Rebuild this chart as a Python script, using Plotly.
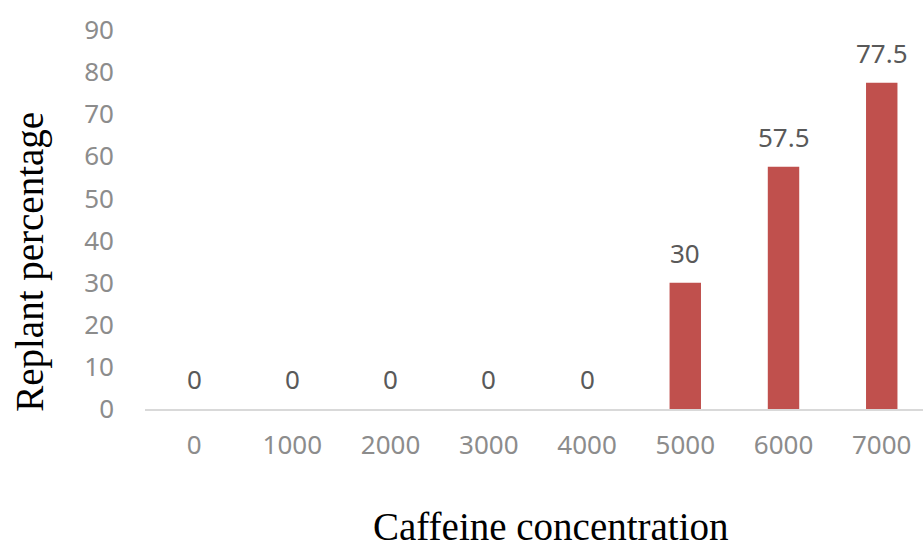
import plotly.graph_objects as go

# Caffeine concentration categories and replant percentage per category
concentrations = ["0", "1000", "2000", "3000", "4000", "5000", "6000", "7000"]
replant_pct = [0, 0, 0, 0, 0, 30, 57.5, 77.5]
y_ticks = [0, 10, 20, 30, 40, 50, 60, 70, 80, 90]

BAR_COLOR = "#C0504D"
TICK_COLOR = "#8C8C8C"
LABEL_COLOR = "#595959"
NUM_FONT = "Noto Sans"
TITLE_FONT = "Liberation Serif"

fig = go.Figure()
fig.add_trace(go.Bar(
    x=list(range(len(concentrations))),
    y=replant_pct,
    marker=dict(color=BAR_COLOR, line=dict(width=0)),
    width=0.32,
    hovertext=concentrations,
    hoverinfo="text+y",
))

# Value labels above each bar
for i, v in enumerate(replant_pct):
    fig.add_annotation(
        x=i, y=v, xref="x", yref="y", text=f"{v:g}", showarrow=False,
        yanchor="middle", yshift=30,
        font=dict(family=NUM_FONT, size=26, color=LABEL_COLOR),
    )

# Axis titles
fig.add_annotation(
    text="Caffeine concentration", xref="paper", yref="paper",
    x=0.522, y=-0.311, xanchor="center", yanchor="middle", showarrow=False,
    font=dict(family=TITLE_FONT, size=39, color="black"),
)
fig.add_annotation(
    text="Replant percentage", xref="paper", yref="paper",
    x=-0.148, y=0.388, xanchor="center", yanchor="middle", showarrow=False,
    textangle=-90,
    font=dict(family=TITLE_FONT, size=39, color="black"),
)

fig.update_layout(
    width=923, height=547,
    margin=dict(l=145, r=0, t=30, b=138),
    paper_bgcolor="white", plot_bgcolor="white",
    showlegend=False,
    xaxis=dict(
        range=[-0.5, 7.42],
        tickvals=list(range(len(concentrations))),
        ticktext=concentrations,
        showgrid=False, zeroline=False,
        showline=True, linecolor="#D9D9D9", linewidth=2,
        ticks="", ticklabelstandoff=12,
        tickfont=dict(family=NUM_FONT, size=26, color=TICK_COLOR),
    ),
    yaxis=dict(
        range=[0, 90],
        tickvals=y_ticks,
        showgrid=False, zeroline=False, showline=False,
        ticks="", ticklabelstandoff=30,
        tickfont=dict(family=NUM_FONT, size=26, color=TICK_COLOR),
    ),
)

fig.write_html("out.html")
